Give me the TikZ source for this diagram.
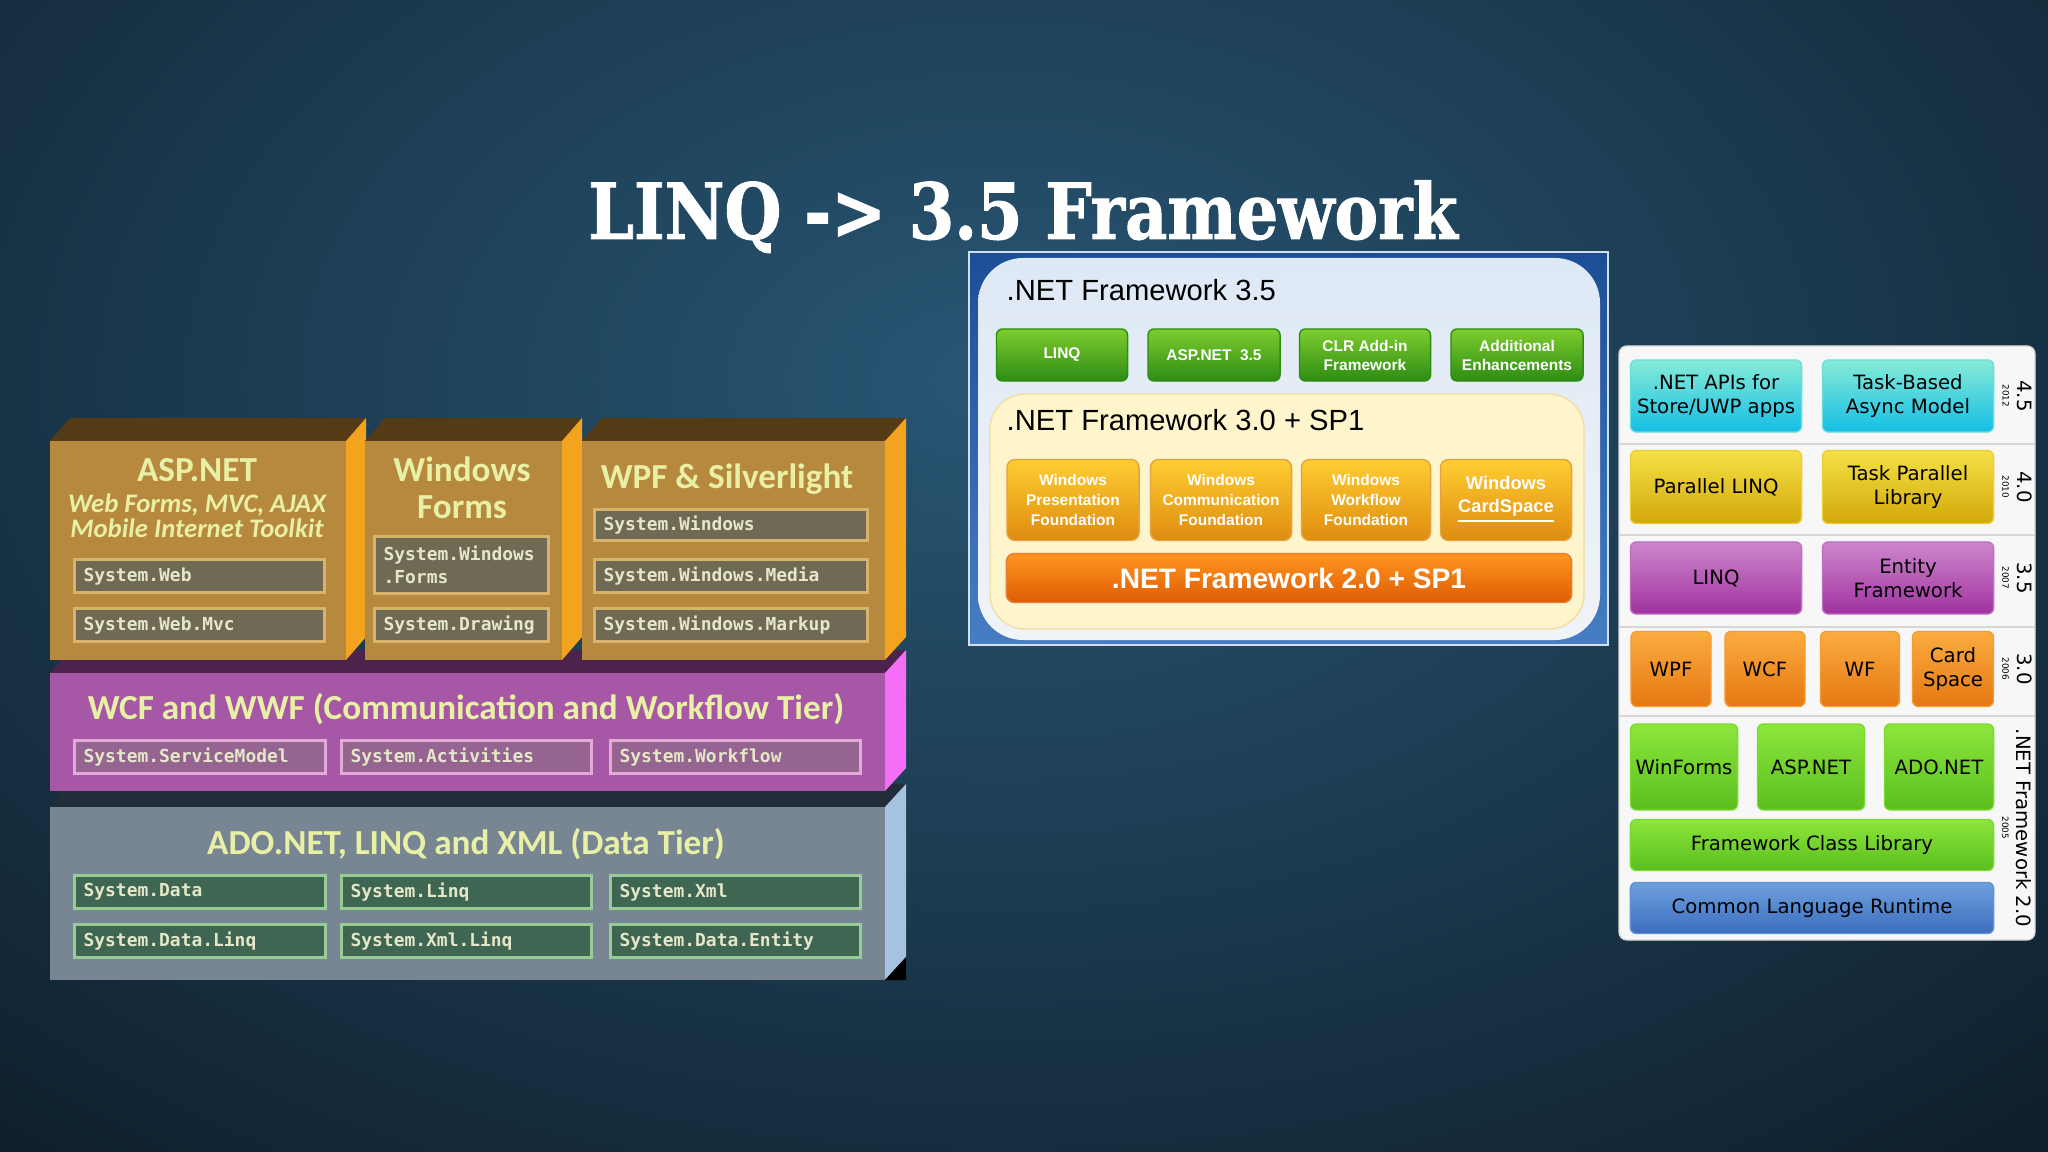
\documentclass[tikz,border=0pt]{standalone}
\usepackage{fontspec}
\usepackage{tikz}
\newfontfamily\titlefont{DejaVu Serif}[FakeStretch=0.845,FakeBold=1.2]
\newfontfamily\tierfont{Carlito}
\newfontfamily\monofont{DejaVu Sans Mono}
\newfontfamily\arialfont{Liberation Sans}
\newfontfamily\verdfont{DejaVu Sans}
% background
\definecolor{bgOuter}{RGB}{8,16,24}
\definecolor{bgInner}{RGB}{40,86,116}
% left panel (tiers)
\definecolor{tierYellow}{RGB}{232,240,165}
\definecolor{monoText}{RGB}{228,232,200}
\definecolor{aspFront}{RGB}{183,137,62}
\definecolor{aspSide}{RGB}{243,163,30}
\definecolor{aspTop}{RGB}{85,58,22}
\definecolor{aspBoxFill}{RGB}{112,106,84}
\definecolor{aspBoxLine}{RGB}{214,180,110}
\definecolor{wcfFront}{RGB}{166,88,166}
\definecolor{wcfSide}{RGB}{245,110,245}
\definecolor{wcfTop}{RGB}{75,35,75}
\definecolor{wcfBoxFill}{RGB}{150,100,145}
\definecolor{wcfBoxLine}{RGB}{225,170,215}
\definecolor{adoFront}{RGB}{120,134,148}
\definecolor{adoSide}{RGB}{165,195,225}
\definecolor{adoTop}{RGB}{35,45,58}
\definecolor{adoBoxFill}{RGB}{62,102,82}
\definecolor{adoBoxLine}{RGB}{150,205,150}
% middle panel
\definecolor{frameTop}{RGB}{28,78,150}
\definecolor{frameBot}{RGB}{70,125,195}
\definecolor{panelTop}{RGB}{222,233,246}
\definecolor{panelBot}{RGB}{240,243,247}
\definecolor{paleYellow}{RGB}{255,245,205}
\definecolor{paleYellowLine}{RGB}{240,222,160}
\definecolor{greenTop}{RGB}{125,205,45}
\definecolor{greenBot}{RGB}{45,140,20}
\definecolor{amberTop}{RGB}{255,205,50}
\definecolor{amberBot}{RGB}{222,140,15}
\definecolor{barTop}{RGB}{255,150,30}
\definecolor{barBot}{RGB}{222,92,5}
% right panel
\definecolor{cyanTop}{RGB}{135,235,215}
\definecolor{cyanBot}{RGB}{20,190,230}
\definecolor{goldTop}{RGB}{245,225,70}
\definecolor{goldBot}{RGB}{210,168,10}
\definecolor{plumTop}{RGB}{205,135,205}
\definecolor{plumBot}{RGB}{160,50,160}
\definecolor{tanTop}{RGB}{250,172,62}
\definecolor{tanBot}{RGB}{230,120,20}
\definecolor{limeTop}{RGB}{140,230,60}
\definecolor{limeBot}{RGB}{90,190,30}
\definecolor{skyTop}{RGB}{110,160,222}
\definecolor{skyBot}{RGB}{60,110,190}
\definecolor{sepGrey}{RGB}{215,215,215}

\tikzset{
  tiertitle/.style={font=\tierfont\bfseries\fontsize{10}{10.5}\selectfont, text=tierYellow, inner sep=0pt, align=center},
  tiersub/.style={font=\tierfont\bfseries\itshape\fontsize{7.6}{7.2}\selectfont, text=tierYellow, inner sep=0pt, align=center},
  sysbox/.style={anchor=north west, minimum height=0.33cm, inner xsep=0.09cm, inner ysep=0pt,
    text width=#1, align=left, line width=0.9pt, text=monoText,
    font=\monofont\bfseries\fontsize{5.1}{6.6}\selectfont},
  aspbox/.style={sysbox=#1, fill=aspBoxFill, draw=aspBoxLine},
  wcfbox/.style={sysbox=#1, fill=wcfBoxFill, draw=wcfBoxLine},
  adobox/.style={sysbox=#1, fill=adoBoxFill, draw=adoBoxLine},
  nettitle/.style={anchor=west, inner sep=0pt, font=\arialfont\fontsize{8.3}{9}\selectfont, text=black},
  greenbtn/.style={rounded corners=0.06cm, top color=greenTop, bottom color=greenBot, draw=greenBot,
    minimum width=1.31cm, minimum height=0.52cm, inner sep=0pt, align=center, text=white,
    font=\arialfont\bfseries\fontsize{4.4}{5.4}\selectfont},
  amberbox/.style={rounded corners=0.08cm, top color=amberTop, bottom color=amberBot, draw=amberBot!80!white,
    minimum height=0.81cm, inner sep=0pt, align=center, text=white,
    font=\arialfont\bfseries\fontsize{4.4}{5.6}\selectfont},
  rbox/.style={rounded corners=0.06cm, inner sep=0pt, align=center, text=black,
    font=\verdfont\fontsize{5.6}{6.9}\selectfont},
  cyanbox/.style={rbox, top color=cyanTop, bottom color=cyanBot, draw=cyanTop!70!cyanBot},
  goldbox/.style={rbox, top color=goldTop, bottom color=goldBot, draw=goldTop!70!goldBot},
  plumbox/.style={rbox, top color=plumTop, bottom color=plumBot, draw=plumTop!70!plumBot},
  tanbox/.style={rbox, top color=tanTop, bottom color=tanBot, draw=tanTop!70!tanBot},
  limebox/.style={rbox, top color=limeTop, bottom color=limeBot, draw=limeTop!70!limeBot},
  skybox/.style={rbox, top color=skyTop, bottom color=skyBot, draw=skyTop!70!skyBot},
  verlabel/.style={rotate=-90, inner sep=0pt, align=center, text=black,
    font=\verdfont\fontsize{5.6}{4.2}\selectfont},
}
\newcommand{\yearfont}{\verdfont\fontsize{2.5}{3}\selectfont}

\begin{document}
\begin{tikzpicture}[x=0.01cm,y=-0.01cm]
  % Background
  \useasboundingbox (0,0) rectangle (2048,1152);
  \fill[bgOuter] (0,0) rectangle (2048,1152);
  \begin{scope}
    \clip (0,0) rectangle (2048,1152);
    \shade[inner color=bgInner, outer color=bgOuter] (1000,380) ellipse (2000 and 1300);
  \end{scope}
  % Title
  \node[anchor=base, inner sep=0pt, text=white, font=\titlefont\bfseries\fontsize{22}{26}\selectfont]
    (title) at (1023,239) {LINQ -> 3.5 Framework};

  % Data tier block
  \fill[adoTop] (50,807) -- (70,784) -- (906,784) -- (885,807) -- cycle;
  \fill[adoSide] (885,807) -- (906,784) -- (906,957) -- (885,980) -- cycle;
  \fill[adoFront] (50,807) rectangle (885,980);
  \fill[black] (885,980) -- (906,957) -- (906,980) -- cycle;
  % Communication tier block
  \fill[wcfTop] (50,673) -- (70,650) -- (906,650) -- (885,673) -- cycle;
  \fill[wcfSide] (885,673) -- (906,650) -- (906,768) -- (885,791) -- cycle;
  \fill[wcfFront] (50,673) rectangle (885,791);
  % Presentation tier blocks
  \fill[aspTop] (50,441) -- (70,418) -- (366,418) -- (346,441) -- cycle;
  \fill[aspSide] (346,441) -- (366,418) -- (366,637) -- (346,660) -- cycle;
  \fill[aspFront] (50,441) rectangle (346,660);
  \fill[aspTop] (365,441) -- (385,418) -- (582,418) -- (562,441) -- cycle;
  \fill[aspSide] (562,441) -- (582,418) -- (582,637) -- (562,660) -- cycle;
  \fill[aspFront] (365,441) rectangle (562,660);
  \fill[aspTop] (582,441) -- (602,418) -- (906,418) -- (885,441) -- cycle;
  \fill[aspSide] (885,441) -- (906,418) -- (906,637) -- (885,660) -- cycle;
  \fill[aspFront] (582,441) rectangle (885,660);

  % ASP.NET column
  \node[tiertitle] (asptitle) at (197,470) {ASP.NET};
  \node[tiersub] (aspsub) at (197,516) {Web Forms, MVC, AJAX\\Mobile Internet Toolkit};
  \node[aspbox=2.32cm] (sysweb) at (73,558) {System.Web};
  \node[aspbox=2.32cm] (syswebmvc) at (73,607) {System.Web.Mvc};
  % Windows Forms column
  \node[tiertitle, font=\tierfont\bfseries\fontsize{10}{10.6}\selectfont] (wftitle) at (462,488) {Windows\\Forms};
  \node[aspbox=1.56cm, minimum height=0.57cm] (syswinforms) at (373,535) {System.Windows\\.Forms};
  \node[aspbox=1.56cm] (sysdrawing) at (373,607) {System.Drawing};
  % WPF column
  \node[tiertitle] (wpftitle) at (727,479) {WPF \& Silverlight};
  \node[aspbox=2.55cm, minimum height=0.31cm] (syswin) at (593,508) {System.Windows};
  \node[aspbox=2.55cm] (syswinmedia) at (593,558) {System.Windows.Media};
  \node[aspbox=2.55cm] (syswinmarkup) at (593,607) {System.Windows.Markup};

  % Communication tier
  \node[tiertitle] (wcftitle) at (466,709) {WCF and WWF (Communication and Workflow Tier)};
  \node[wcfbox=2.33cm] (sysservice) at (73,739) {System.ServiceModel};
  \node[wcfbox=2.32cm] (sysactivities) at (340,739) {System.Activities};
  \node[wcfbox=2.32cm] (sysworkflow) at (609,739) {System.Workflow};

  % Data tier
  \node[tiertitle] (adotitle) at (466,844) {ADO.NET, LINQ and XML (Data Tier)};
  \node[adobox=2.33cm] (sysdata) at (73,874) {System.Data};
  \node[adobox=2.32cm] (syslinq) at (340,874) {System.Linq};
  \node[adobox=2.32cm] (sysxml) at (609,874) {System.Xml};
  \node[adobox=2.33cm] (sysdatalinq) at (73,923) {System.Data.Linq};
  \node[adobox=2.32cm] (sysxmllinq) at (340,923) {System.Xml.Linq};
  \node[adobox=2.32cm] (sysdataentity) at (609,923) {System.Data.Entity};

  % .NET 3.5 stack
  \shade[top color=frameTop, bottom color=frameBot] (969,252) rectangle (1608,645);
  \draw[white!75!frameBot, line width=0.6pt] (969,252) rectangle (1608,645);
  \shade[top color=panelTop, bottom color=panelBot, rounded corners=0.45cm] (978,258) rectangle (1600,640);
  \node[nettitle] (net35) at (1006,290) {.NET Framework 3.5};
  \node[greenbtn] (linqbtn) at (1062,355) {LINQ};
  \node[greenbtn, minimum width=1.32cm] (aspbtn) at (1214,355) {ASP.NET\ \ 3.5};
  \node[greenbtn] (clrbtn) at (1365,355) {CLR Add-in\\Framework};
  \node[greenbtn, minimum width=1.32cm] (addbtn) at (1517,355) {Additional\\Enhancements};
  \filldraw[fill=paleYellow, draw=paleYellowLine, rounded corners=0.35cm] (990,394) rectangle (1584,629);
  \node[nettitle] (net30) at (1006,420) {.NET Framework 3.0 + SP1};
  \node[amberbox, minimum width=1.32cm] (wpfbox) at (1073,500) {Windows\\Presentation\\Foundation};
  \node[amberbox, minimum width=1.41cm] (wcfboxm) at (1221,500) {Windows\\Communication\\Foundation};
  \node[amberbox, minimum width=1.29cm] (wwfbox) at (1366,500) {Windows\\Workflow\\Foundation};
  \node[amberbox, minimum width=1.31cm, font=\arialfont\bfseries\fontsize{5.2}{6.4}\selectfont]
    (cardbox) at (1506,500) {Windows\\\underline{CardSpace}};
  \node[rounded corners=0.08cm, top color=barTop, bottom color=barBot, draw=barBot!80!white,
    minimum width=5.65cm, minimum height=0.49cm, inner sep=0pt, text=white,
    font=\arialfont\bfseries\fontsize{8}{9}\selectfont] (net20bar) at (1289,578) {.NET Framework 2.0 + SP1};

  % Version history panel
  \filldraw[fill=white!97!black, draw=white!85!black, rounded corners=0.08cm] (1619,346) rectangle (2035,940);
  \draw[sepGrey, line width=0.5pt] (1619,444) -- (2035,444);
  \draw[sepGrey, line width=0.5pt] (1619,535) -- (2035,535);
  \draw[sepGrey, line width=0.5pt] (1619,627) -- (2035,627);
  \draw[sepGrey, line width=0.5pt] (1619,716) -- (2035,716);
  % 4.5
  \node[cyanbox, minimum width=1.71cm, minimum height=0.72cm] (storeapi) at (1716,396) {.NET APIs for\\Store/UWP apps};
  \node[cyanbox, minimum width=1.71cm, minimum height=0.72cm] (asyncmodel) at (1908,396) {Task-Based\\Async Model};
  \node[verlabel] (v45) at (2017,396) {4.5\\{\yearfont 2012}};
  % 4.0
  \node[goldbox, minimum width=1.71cm, minimum height=0.73cm] (plinq) at (1716,487) {Parallel LINQ};
  \node[goldbox, minimum width=1.71cm, minimum height=0.73cm] (tpl) at (1908,487) {Task Parallel\\Library};
  \node[verlabel] (v40) at (2017,487) {4.0\\{\yearfont 2010}};
  % 3.5
  \node[plumbox, minimum width=1.71cm, minimum height=0.72cm] (linqr) at (1716,578) {LINQ};
  \node[plumbox, minimum width=1.71cm, minimum height=0.72cm] (entity) at (1908,578) {Entity\\Framework};
  \node[verlabel] (v35) at (2017,578) {3.5\\{\yearfont 2007}};
  % 3.0
  \node[tanbox, minimum width=0.80cm, minimum height=0.75cm] (wpfr) at (1671,669) {WPF};
  \node[tanbox, minimum width=0.80cm, minimum height=0.75cm] (wcfr) at (1765,669) {WCF};
  \node[tanbox, minimum width=0.79cm, minimum height=0.75cm] (wfr) at (1860,669) {WF};
  \node[tanbox, minimum width=0.81cm, minimum height=0.75cm] (cardr) at (1953,669) {Card\\Space};
  \node[verlabel] (v30) at (2017,669) {3.0\\{\yearfont 2006}};
  % 2.0
  \node[limebox, minimum width=1.07cm, minimum height=0.86cm] (winformsr) at (1684,767) {WinForms};
  \node[limebox, minimum width=1.07cm, minimum height=0.86cm] (aspr) at (1811,767) {ASP.NET};
  \node[limebox, minimum width=1.09cm, minimum height=0.86cm] (adonetr) at (1939,767) {ADO.NET};
  \node[limebox, minimum width=3.63cm, minimum height=0.51cm] (fcl) at (1812,845) {Framework Class Library};
  \node[skybox, minimum width=3.63cm, minimum height=0.51cm] (clr) at (1812,908) {Common Language Runtime};
  \node[verlabel] (v20) at (2017,828) {.NET Framework 2.0\\{\yearfont 2005}};
\end{tikzpicture}
\end{document}
